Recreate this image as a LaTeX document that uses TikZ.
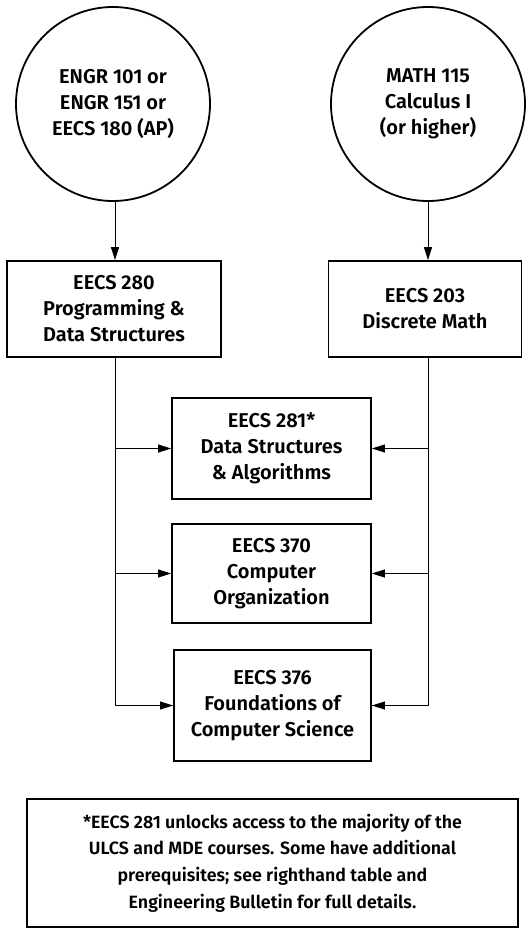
\documentclass[tikz,border=0pt]{standalone}
\usepackage{fontspec}
\setmainfont{Fira Sans}[UprightFont={* SemiBold}]
\usetikzlibrary{arrows.meta}
\begin{document}
\begin{tikzpicture}[x=1pt,y=-1pt,
  every node/.style={font=\fontsize{20}{26}\selectfont, align=center, inner sep=0pt},
  course/.style={draw, line width=1.8pt, rectangle},
  prereq/.style={draw, line width=1.8pt, circle, minimum size=194pt},
  conn/.style={line width=0.9pt},
  arr/.style={conn, -{Triangle[length=13pt,width=8pt]}}]
\useasboundingbox (0,0) rectangle (527,928);
\node[prereq] (c1) at (113,104) {ENGR 101 or\\ENGR 151 or\\EECS 180 (AP)};
\node[prereq] (c2) at (428,104) {MATH 115\\Calculus I\\(or higher)};
\node[course, minimum width=214pt, minimum height=96pt] (b280) at (114,309) {EECS 280\\Programming \&\\Data Structures};
\node[course, minimum width=193pt, minimum height=96pt] (b203) at (425,309) {EECS 203\\Discrete Math};
\node[course, minimum width=199pt, minimum height=101pt] (b281) at (271.5,448.5) {EECS 281*\\Data Structures\\\& Algorithms};
\node[course, minimum width=199pt, minimum height=99pt] (b370) at (271.5,573.5) {EECS 370\\Computer\\Organization};
\node[course, minimum width=197pt, minimum height=111pt] (b376) at (272.5,705.5) {EECS 376\\Foundations of\\Computer Science};
\node[course, minimum width=491pt, minimum height=128pt, font=\fontsize{17.8}{26.7}\selectfont] (note) at (272.5,863)
  {*EECS 281 unlocks access to the majority of the\\ULCS and MDE courses. Some have additional\\prerequisites; see righthand table and\\Engineering Bulletin for full details.};
\coordinate (t1) at (115,357);
\coordinate (t2) at (428,357);
\draw[arr] (c1.south -| t1) -- (t1 |- b280.north);
\draw[arr] (c2.south) -- (c2.south |- b203.north);
\draw[conn] (t1) |- (b376.west);
\draw[arr] (t1 |- b376.west) -- (b376.west);
\draw[arr] (t1 |- b281.west) -- (b281.west);
\draw[arr] (t1 |- b370.west) -- (b370.west);
\draw[conn] (t2) |- (b376.east);
\draw[arr] (t2 |- b376.east) -- (b376.east);
\draw[arr] (t2 |- b281.east) -- (b281.east);
\draw[arr] (t2 |- b370.east) -- (b370.east);
\end{tikzpicture}
\end{document}
